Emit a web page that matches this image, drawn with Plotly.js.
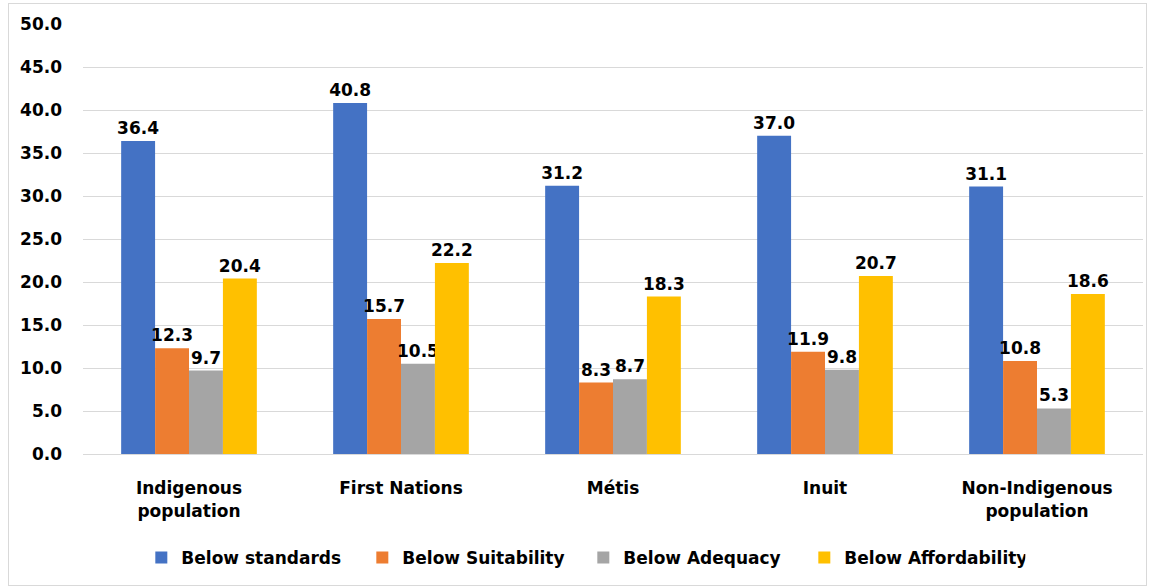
<!DOCTYPE html>
<html>
<head>
<meta charset="utf-8">
<script src="https://cdn.plot.ly/plotly-3.0.1.min.js"></script>
<style>
html,body{margin:0;padding:0;background:#fff;}
#wrap{position:relative;width:1153px;height:587px;}
#chart{position:absolute;left:0;top:0;width:1153px;height:587px;}
#frame{position:absolute;left:8px;top:3px;width:1137px;height:581px;border:1px solid #d9d9d9;pointer-events:none;}
</style>
</head>
<body>
<div id="wrap"><div id="chart"></div><div id="frame"></div></div>
<script>
const categories = ["Indigenous<br>population", "First Nations", "Métis", "Inuit", "Non-Indigenous<br>population"];
const seriesNames = ["Below standards", "Below Suitability", "Below Adequacy", "Below Affordability"];
const belowStandards = [36.4, 40.8, 31.2, 37.0, 31.1];
const belowSuitability = [12.3, 15.7, 8.3, 11.9, 10.8];
const belowAdequacy = [9.7, 10.5, 8.7, 9.8, 5.3];
const belowAffordability = [20.4, 22.2, 18.3, 20.7, 18.6];
const colors = ["#4472c4", "#ed7d31", "#a5a5a5", "#ffc000"];
const yTicks = [0, 5, 10, 15, 20, 25, 30, 35, 40, 45, 50];

const FONT = "DejaVu Sans, Verdana, sans-serif";
const FS = 17;
const allSeries = [belowStandards, belowSuitability, belowAdequacy, belowAffordability];
const traces = allSeries.map((vals, i) => ({
  type: "bar",
  name: seriesNames[i],
  x: categories,
  y: vals,
  marker: {color: colors[i]},
  text: vals.map(v => v.toFixed(1)),
  textposition: "outside",
  constraintext: "none",
  cliponaxis: false,
  textfont: {family: FONT, size: FS, color: "#000", weight: "bold"},
  hoverinfo: "x+y+name"
}));

const layout = {
  width: 1153, height: 587,
  margin: {l: 83, r: 10, t: 24, b: 133},
  paper_bgcolor: "#fff", plot_bgcolor: "#fff",
  barmode: "group",
  bargap: 0.36,
  bargroupgap: 0,
  font: {family: FONT, size: FS, color: "#000", weight: "bold"},
  xaxis: {
    type: "category",
    showgrid: false,
    showline: true, linecolor: "#d9d9d9", linewidth: 1,
    ticks: "",
    ticklabelstandoff: 19,
    tickfont: {family: FONT, size: FS, color: "#000", weight: "bold"}
  },
  yaxis: {
    range: [0, 50],
    tickvals: yTicks,
    ticktext: yTicks.map(v => v.toFixed(1)),
    showgrid: true, gridcolor: "#d9d9d9", gridwidth: 1,
    zeroline: false, showline: false, ticks: "",
    ticklabelstandoff: 20,
    tickfont: {family: FONT, size: FS, color: "#000", weight: "bold"}
  },
  showlegend: true,
  legend: {
    orientation: "h",
    x: 0.472, xanchor: "center",
    y: -0.2, yanchor: "top",
    entrywidth: 176,
    font: {family: FONT, size: FS, color: "#000", weight: "bold"},
    itemsizing: "constant"
  }
};

Plotly.newPlot("chart", traces, layout, {displayModeBar: false, staticPlot: true});
</script>
</body>
</html>
